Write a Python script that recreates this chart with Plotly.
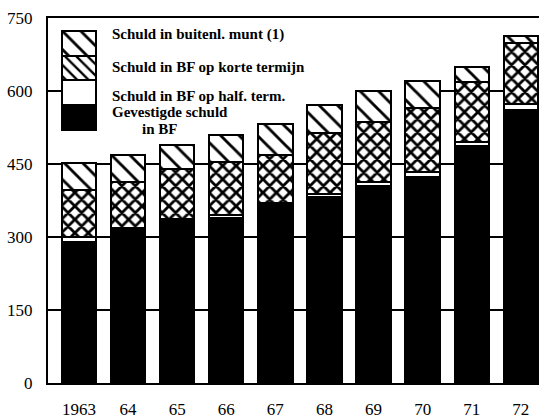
import plotly.graph_objects as go

# Belgian public debt, 1963-1972 (billion BF), stacked by type
years = ["1963", "64", "65", "66", "67", "68", "69", "70", "71", "72"]
gevestigde_schuld = [290, 316, 335, 340, 368, 382, 404, 423, 486, 560]
half_termijn = [10, 2, 2, 6, 2, 7, 10, 11, 10, 13]
korte_termijn = [97, 95, 102, 109, 99, 124, 122, 132, 123, 126]
buitenl_munt = [55, 55, 51, 54, 64, 58, 63, 55, 30, 15]

y_ticks = [0, 150, 300, 450, 600, 750]

legend_labels = [
    "Schuld in buitenl. munt (1)",
    "Schuld in BF op korte termijn",
    "Schuld in BF op half. term.",
]

SERIF = "Liberation Serif, Times New Roman, serif"
BLACK = "#000000"
WHITE = "#ffffff"

outline = dict(color=BLACK, width=2)
solid = dict(shape="", fgcolor=BLACK, bgcolor=BLACK)
blank = dict(shape="", fgcolor=WHITE, bgcolor=WHITE)
cross = dict(shape="x", fgcolor=BLACK, bgcolor=WHITE, fgopacity=1,
             size=9.5, solidity=0.5)
diag = dict(shape="\\", fgcolor=BLACK, bgcolor=WHITE, fgopacity=1,
            size=13, solidity=0.22)
diag_dense = dict(shape="\\", fgcolor=BLACK, bgcolor=WHITE, fgopacity=1,
                  size=8, solidity=0.3)

fig = go.Figure()

series = [
    (gevestigde_schuld, BLACK, solid),
    (half_termijn, WHITE, blank),
    (korte_termijn, WHITE, cross),
    (buitenl_munt, WHITE, diag),
]
for values, color, pattern in series:
    fig.add_trace(go.Bar(
        x=list(range(len(years))), y=values, width=0.7,
        marker=dict(color=color, line=outline, pattern=pattern),
        showlegend=False, hoverinfo="skip",
    ))

# Legend key: one stacked block drawn on its own small axes
key_patterns = [(BLACK, solid), (WHITE, blank), (WHITE, diag_dense), (WHITE, diag)]
for color, pattern in key_patterns:
    fig.add_trace(go.Bar(
        x=[0], y=[1], width=1, xaxis="x2", yaxis="y2",
        marker=dict(color=color, line=outline, pattern=pattern),
        showlegend=False, hoverinfo="skip",
    ))

# white panel behind the legend hides the grid line there
fig.add_shape(type="rect", xref="x", yref="y", x0=-0.36, x1=6.62, y0=515, y1=735,
              fillcolor=WHITE, line=dict(width=0), layer="between")

text_font = dict(family=SERIF, size=15, color=BLACK)
legend_rows = [(legend_labels[0], 0.126, 35), (legend_labels[1], 0.126, 68),
               (legend_labels[2], 0.126, 98), ("Gevestigde schuld", 0.126, 115),
               ("in BF", 0.187, 132)]
for text, xp, ypx in legend_rows:
    fig.add_annotation(text=f"<b>{text}</b>", xref="paper", yref="paper",
                       x=xp, y=(393 - ypx) / 375, xanchor="left", yanchor="middle",
                       showarrow=False, font=text_font)

fig.update_layout(
    width=539, height=419,
    margin=dict(l=48, r=0, t=18, b=26),
    paper_bgcolor=WHITE, plot_bgcolor=WHITE,
    barmode="stack", bargap=0.3,
    font=dict(family=SERIF, color=BLACK),
    xaxis=dict(
        range=[-0.63, 9.37], tickmode="array",
        tickvals=list(range(len(years))), ticktext=years,
        showgrid=False, zeroline=False, showline=True, linecolor=BLACK,
        linewidth=2, mirror=True, ticks="", ticklabelstandoff=10,
        tickfont=dict(family=SERIF, size=17, color=BLACK),
    ),
    yaxis=dict(
        range=[0, 750], tickvals=y_ticks, showgrid=True, gridcolor=BLACK,
        gridwidth=1.5, zeroline=False, showline=True, linecolor=BLACK,
        linewidth=2, ticks="", ticklabelstandoff=10,
        tickfont=dict(family=SERIF, size=17, color=BLACK),
    ),
    xaxis2=dict(domain=[0.0265, 0.0998], range=[-0.53, 0.53], anchor="y2",
                visible=False, fixedrange=True),
    yaxis2=dict(domain=[0.690, 0.968], range=[-0.04, 4.04], anchor="x2",
                visible=False, fixedrange=True),
)

fig.write_html("out.html")
